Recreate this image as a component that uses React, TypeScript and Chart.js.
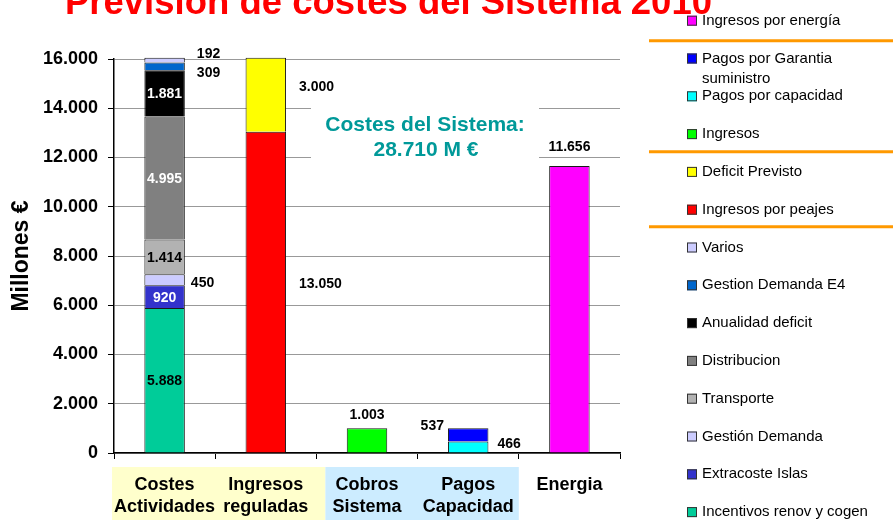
import React, { useEffect, useRef } from 'react';
import { Chart, registerables } from 'chart.js';

Chart.register(...registerables);

const FONT = '"Liberation Sans", Arial, Helvetica, sans-serif';

// ---------- DATA ----------
const categories: string[][] = [
  ['Costes', 'Actividades'],
  ['Ingresos', 'reguladas'],
  ['Cobros', 'Sistema'],
  ['Pagos', 'Capacidad'],
  ['Energia'],
];

// series, stacked bottom -> top
const incentivos = [5888, null, null, null, null];
const extracosteIslas = [920, null, null, null, null];
const gestionDemanda = [450, null, null, null, null];
const transporte = [1414, null, null, null, null];
const distribucion = [4995, null, null, null, null];
const anualidadDeficit = [1881, null, null, null, null];
const gestionDemandaE4 = [309, null, null, null, null];
const varios = [192, null, null, null, null];
const ingresosPeajes = [null, 13050, null, null, null];
const deficitPrevisto = [null, 3000, null, null, null];
const ingresosCobros = [null, null, 1003, null, null];
const pagosCapacidad = [null, null, null, 466, null];
const pagosGarantia = [null, null, null, 537, null];
const ingresosEnergia = [null, null, null, null, 11656];

const seriesNames = [
  'Incentivos renov y cogen',
  'Extracoste Islas',
  'Gestión Demanda',
  'Transporte',
  'Distribucion',
  'Anualidad deficit',
  'Gestion Demanda E4',
  'Varios',
  'Ingresos por peajes',
  'Deficit Previsto',
  'Ingresos',
  'Pagos por capacidad',
  'Pagos por Garantia\nsuministro',
  'Ingresos por energía',
];
const seriesValues = [
  incentivos, extracosteIslas, gestionDemanda, transporte, distribucion,
  anualidadDeficit, gestionDemandaE4, varios, ingresosPeajes, deficitPrevisto,
  ingresosCobros, pagosCapacidad, pagosGarantia, ingresosEnergia,
];

const yMin = 0;
const yMax = 16000;
const yStep = 2000;

const titleText = 'Previsión de costes del Sistema 2010';
const yAxisTitle = 'Millones €';
const annotationLines = ['Costes del Sistema:', '28.710 M €'];

// ---------- STYLES ----------
const seriesColors = [
  '#00CC99', '#3333CC', '#CCCCFF', '#B2B2B2', '#808080', '#000000', '#0066CC',
  '#CCCCFF', '#FF0000', '#FFFF00', '#00FF00', '#00FFFF', '#0000FF', '#FF00FF',
];
type LabelStyle = { mode: 'inside' | 'right' | 'left' | 'above'; color?: string; dx?: number; dy?: number };
const labelStyles: LabelStyle[] = [
  { mode: 'inside', color: '#000' },
  { mode: 'inside', color: '#fff' },
  { mode: 'right', dx: 6, dy: 3 },
  { mode: 'inside', color: '#000' },
  { mode: 'inside', color: '#fff' },
  { mode: 'inside', color: '#fff' },
  { mode: 'right', dx: 12, dy: 7 },
  { mode: 'right', dx: 12, dy: -6 },
  { mode: 'right', dx: 13, dy: -8 },
  { mode: 'right', dx: 13, dy: -8 },
  { mode: 'above', dy: -13 },
  { mode: 'right', dx: 9, dy: -3 },
  { mode: 'left', dx: 4, dy: -9 },
  { mode: 'above', dy: -19 },
];

const fmt = (n: number) => String(n).replace(/\B(?=(\d{3})+(?!\d))/g, '.');

const overlayPlugin = {
  id: 'overlay',
  beforeDraw(chart: any) {
    const ctx = chart.ctx;
    const xs = chart.scales.x;
    const catW = (xs.right - xs.left) / categories.length;
    const bx = (k: number) => xs.left + k * catW;
    const top = xs.top + 14;
    const h = chart.height - top;
    ctx.save();
    ctx.fillStyle = '#FFFFCC';
    ctx.fillRect(bx(0) - 2, top, bx(2) + 9 - (bx(0) - 2), h);
    ctx.fillStyle = '#CCECFF';
    ctx.fillRect(bx(2) + 9, top, bx(4) - (bx(2) + 9), h);
    ctx.restore();
  },
  beforeDatasetsDraw(chart: any) {
    const ctx = chart.ctx;
    ctx.save();
    ctx.fillStyle = '#ffffff';
    ctx.fillRect(311, 98, 228, 74);
    ctx.restore();
  },
  afterDatasetsDraw(chart: any) {
    const ctx = chart.ctx;
    ctx.save();
    ctx.font = `bold 14px ${FONT}`;
    ctx.textBaseline = 'middle';
    chart.data.datasets.forEach((ds: any, i: number) => {
      const meta = chart.getDatasetMeta(i);
      const st = labelStyles[i];
      ds.data.forEach((v: number | null, j: number) => {
        if (v == null) return;
        const el = meta.data[j];
        const { x, y, base, width } = el.getProps(['x', 'y', 'base', 'width'], true);
        const txt = fmt(v);
        ctx.fillStyle = st.color || '#000';
        if (st.mode === 'inside') {
          ctx.textAlign = 'center';
          ctx.fillText(txt, x, (y + base) / 2 + 1);
        } else if (st.mode === 'right') {
          ctx.textAlign = 'left';
          ctx.fillText(txt, x + width / 2 + (st.dx || 0), (y + base) / 2 + (st.dy || 0));
        } else if (st.mode === 'left') {
          ctx.textAlign = 'right';
          ctx.fillText(txt, x - width / 2 - (st.dx || 0), (y + base) / 2 + (st.dy || 0));
        } else {
          ctx.textAlign = 'center';
          ctx.fillText(txt, x, y + (st.dy || 0));
        }
      });
    });
    // annotation
    ctx.fillStyle = '#009999';
    ctx.font = `bold 21px ${FONT}`;
    ctx.textAlign = 'center';
    ctx.fillText(annotationLines[0], 425, 125);
    ctx.fillText(annotationLines[1], 426, 150);
    ctx.restore();
  },
  afterDraw(chart: any) {
    const ctx = chart.ctx;
    ctx.save();
    // title (cut at top)
    ctx.fillStyle = '#FF0000';
    ctx.font = `bold 36px ${FONT}`;
    ctx.textAlign = 'left';
    ctx.textBaseline = 'alphabetic';
    const w = ctx.measureText(titleText).width;
    ctx.translate(65, 14);
    ctx.scale(647 / w, 1);
    ctx.fillText(titleText, 0, 0);
    ctx.restore();

    // legend
    ctx.save();
    const n = seriesNames.length;
    const top0 = 20.7;
    const step = 37.8;
    ctx.font = `15px ${FONT}`;
    ctx.textBaseline = 'middle';
    ctx.textAlign = 'left';
    for (let k = 0; k < n; k++) {
      const idx = n - 1 - k;
      const y = top0 + k * step;
      ctx.fillStyle = seriesColors[idx];
      ctx.fillRect(687, y - 5, 10, 10);
      ctx.strokeStyle = '#333';
      ctx.lineWidth = 1;
      ctx.strokeRect(687.5, y - 4.5, 9, 9);
      ctx.fillStyle = '#000';
      seriesNames[idx].split('\n').forEach((line, li) => {
        ctx.fillText(line, 702, y + li * 20);
      });
    }
    // separators
    ctx.strokeStyle = '#FF9900';
    ctx.lineWidth = 3;
    [40.7, 151.7, 226.7].forEach((yy) => {
      ctx.beginPath();
      ctx.moveTo(649, yy);
      ctx.lineTo(893, yy);
      ctx.stroke();
    });
    ctx.restore();
  },
};

export default function App() {
  const ref = useRef<HTMLCanvasElement>(null);
  useEffect(() => {
    Chart.defaults.font.family = FONT;
    const chart = new Chart(ref.current as HTMLCanvasElement, {
      type: 'bar',
      data: {
        labels: categories,
        datasets: seriesValues.map((vals, i) => ({
          label: seriesNames[i],
          data: vals,
          backgroundColor: seriesColors[i],
          borderColor: '#1a1a1a',
          borderWidth: 1,
          barPercentage: 0.4,
          categoryPercentage: 1,
          clip: false,
        })) as any,
      },
      options: {
        responsive: false,
        animation: false,
        devicePixelRatio: 1,
        layout: { padding: { top: 59, right: 273, left: 0, bottom: 0 } },
        plugins: {
          legend: { display: false },
          tooltip: { enabled: false },
          title: { display: false },
        },
        scales: {
          x: {
            stacked: true,
            offset: true,
            grid: { display: true, drawOnChartArea: false, drawTicks: true, tickLength: 6, tickColor: '#000', offset: true },
            border: { display: true, color: '#000', width: 1.5 },
            ticks: {
              color: '#000',
              font: { size: 18, weight: 'bold', lineHeight: '22px' } as any,
              padding: 15,
              maxRotation: 0,
              autoSkip: false,
            },
            afterFit: (s: any) => { s.height = 67; },
          },
          y: {
            stacked: true,
            min: yMin,
            max: yMax,
            grid: { color: '#999', lineWidth: 1, tickColor: '#000', tickLength: 6 },
            border: { display: true, color: '#000', width: 1.5 },
            ticks: {
              stepSize: yStep,
              color: '#000',
              font: { size: 18, weight: 'bold' },
              padding: 10,
              callback: (v: any) => fmt(Number(v)),
            },
            title: {
              display: true,
              text: yAxisTitle,
              color: '#000',
              font: { size: 23, weight: 'bold', lineHeight: 1.2 },
              padding: { top: 8, bottom: 0 },
            },
            afterFit: (s: any) => { s.width = 114; },
          },
        },
      },
      plugins: [overlayPlugin],
    });
    return () => chart.destroy();
  }, []);
  return (
    <div style={{ position: 'absolute', left: 0, top: 0, width: 893, height: 520 }}>
      <canvas ref={ref} width={893} height={520} style={{ display: 'block', width: 893, height: 520 }} />
    </div>
  );
}
